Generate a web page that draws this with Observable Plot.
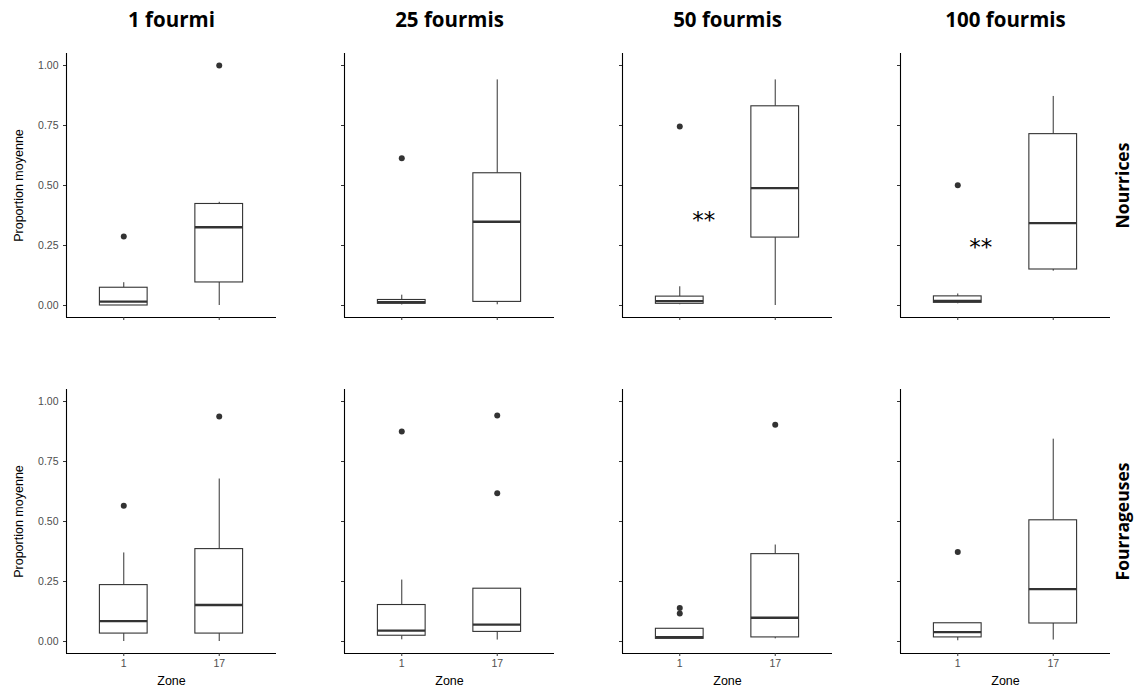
<!DOCTYPE html>
<html>
<head>
<meta charset="utf-8">
<script src="https://cdn.jsdelivr.net/npm/d3@7"></script>
<script src="https://cdn.jsdelivr.net/npm/@observablehq/plot@0.6"></script>
<style>
  html, body { margin: 0; padding: 0; background: #fff; }
  #chart svg { display: block; overflow: visible; }
</style>
</head>
<body>
<div id="chart"></div>
<script>
// ---- data ----
const groups = ["1 fourmi", "25 fourmis", "50 fourmis", "100 fourmis"];
const roles = ["Nourrices", "Fourrageuses"];
const zones = ["1", "17"];
const yTicks = [0, 0.25, 0.5, 0.75, 1];

// box order: role (Nourrices, Fourrageuses) > group > zone (1, 17)
const whiskerLow  = [0.000, 0.000, 0.002, 0.003, 0.003, 0.000, 0.007, 0.143,
                     0.000, 0.000, 0.007, 0.006, 0.011, 0.011, 0.003, 0.006];
const quartile1   = [0.000, 0.096, 0.007, 0.015, 0.007, 0.283, 0.011, 0.150,
                     0.033, 0.033, 0.024, 0.040, 0.011, 0.017, 0.017, 0.075];
const medians     = [0.016, 0.326, 0.014, 0.349, 0.018, 0.489, 0.019, 0.343,
                     0.085, 0.152, 0.045, 0.070, 0.018, 0.099, 0.039, 0.218];
const quartile3   = [0.074, 0.423, 0.023, 0.551, 0.037, 0.830, 0.038, 0.714,
                     0.235, 0.385, 0.152, 0.220, 0.053, 0.364, 0.076, 0.505];
const whiskerHigh = [0.095, 0.430, 0.043, 0.940, 0.078, 0.940, 0.048, 0.871,
                     0.369, 0.677, 0.256, 0.220, 0.053, 0.402, 0.076, 0.843];

// outliers
const outRole  = ["Nourrices", "Nourrices", "Nourrices", "Nourrices", "Nourrices",
                  "Fourrageuses", "Fourrageuses", "Fourrageuses", "Fourrageuses", "Fourrageuses",
                  "Fourrageuses", "Fourrageuses", "Fourrageuses", "Fourrageuses"];
const outGroup = ["1 fourmi", "1 fourmi", "25 fourmis", "50 fourmis", "100 fourmis",
                  "1 fourmi", "1 fourmi", "25 fourmis", "25 fourmis", "25 fourmis",
                  "50 fourmis", "50 fourmis", "50 fourmis", "100 fourmis"];
const outZone  = ["1", "17", "1", "1", "1",
                  "1", "17", "1", "17", "17",
                  "1", "1", "17", "1"];
const outValue = [0.288, 1.000, 0.614, 0.746, 0.501,
                  0.566, 0.937, 0.875, 0.942, 0.618,
                  0.140, 0.117, 0.903, 0.373];

// significance labels
const sigGroup = ["50 fourmis", "100 fourmis"];
const sigRole  = ["Nourrices", "Nourrices"];
const sigX     = [1.25, 1.24];
const sigY     = [0.373, 0.26];
const sigText  = ["**", "**"];

// ---- build tables ----
const boxes = medians.map((m, i) => ({
  role: roles[Math.floor(i / 8)],
  group: groups[Math.floor(i / 2) % 4],
  pos: zones.indexOf(zones[i % 2]) + 1,
  lo: whiskerLow[i], q1: quartile1[i], med: m, q3: quartile3[i], hi: whiskerHigh[i]
}));
const outliers = outValue.map((v, i) => ({
  role: outRole[i], group: outGroup[i], pos: zones.indexOf(outZone[i]) + 1, value: v
}));
const sigs = sigText.map((t, i) => ({role: sigRole[i], group: sigGroup[i], x: sigX[i], y: sigY[i], text: t}));

const halfW = 0.25;
const ink = "#333333";
const sans = "'Liberation Sans', Arial, sans-serif";
const boldFont = "'Open Sans', sans-serif";

const chart = Plot.plot({
  width: 1136,
  height: 693,
  marginLeft: 65,
  marginRight: 25,
  marginTop: 53,
  marginBottom: 39,
  style: {fontFamily: sans, background: "white"},
  fx: {domain: groups, axis: null, paddingInner: 0.2464, paddingOuter: 0},
  fy: {domain: roles, axis: null, paddingInner: 0.214, paddingOuter: 0},
  x: {type: "linear", domain: [0.4, 2.6]},
  y: {type: "linear", domain: [-0.05, 1.05]},
  marks: [
    // whiskers
    Plot.ruleX(boxes, {fx: "group", fy: "role", x: "pos", y1: "lo", y2: "q1", stroke: ink, strokeWidth: 1}),
    Plot.ruleX(boxes, {fx: "group", fy: "role", x: "pos", y1: "q3", y2: "hi", stroke: ink, strokeWidth: 1}),
    // boxes
    Plot.rect(boxes, {fx: "group", fy: "role", x1: d => d.pos - halfW, x2: d => d.pos + halfW,
      y1: "q1", y2: "q3", fill: "white", stroke: ink, strokeWidth: 1.1}),
    // medians
    Plot.ruleY(boxes, {fx: "group", fy: "role", y: "med", x1: d => d.pos - halfW, x2: d => d.pos + halfW,
      stroke: ink, strokeWidth: 2.3}),
    // outliers
    Plot.dot(outliers, {fx: "group", fy: "role", x: "pos", y: "value", r: 3, fill: ink, stroke: null}),
    // significance
    Plot.text(sigs, {fx: "group", fy: "role", x: "x", y: "y", text: "text", fontSize: 23, dy: 5,
      fontFamily: "'DejaVu Sans', sans-serif", fill: "black"}),
    // axis lines
    Plot.ruleX([0.4], {stroke: "black", strokeWidth: 1.1}),
    Plot.ruleY([-0.05], {stroke: "black", strokeWidth: 1.1}),
    // y ticks everywhere, labels on left column
    Plot.axisY({ticks: yTicks, tickFormat: () => "", tickSize: 3, stroke: ink, facetAnchor: null, label: null}),
    Plot.axisY({ticks: yTicks, tickFormat: ".2f", tickSize: 0, tickPadding: 8, fill: "#4d4d4d",
      fontSize: 10.5, label: null, facetAnchor: "left"}),
    // x ticks everywhere, labels on bottom row
    Plot.axisX({ticks: [1, 2], tickFormat: () => "", tickSize: 3, stroke: ink, facetAnchor: null, label: null}),
    Plot.axisX({ticks: [1, 2], tickFormat: d => zones[d - 1], tickSize: 0, tickPadding: 6, fill: "#4d4d4d",
      fontSize: 10.5, label: null, facetAnchor: "bottom"}),
    // column titles
    Plot.text(groups, {fx: d => d, fy: () => roles[0], text: d => d, frameAnchor: "top", dy: -33,
      textAnchor: "middle", lineAnchor: "middle",
      fontSize: 20.5, fontWeight: "bold", fontFamily: boldFont, fill: "black"}),
    // row labels
    Plot.text(roles, {fy: d => d, fx: () => groups[3], text: d => d, frameAnchor: "right", dx: 13,
      textAnchor: "middle", lineAnchor: "middle",
      rotate: -90, fontSize: 17.5, fontWeight: "bold", fontFamily: boldFont, fill: "black"}),
    // y axis title
    Plot.text(roles, {fy: d => d, fx: () => groups[0], text: () => "Proportion moyenne", frameAnchor: "left",
      textAnchor: "middle", lineAnchor: "middle",
      dx: -48, rotate: -90, fontSize: 12.5, fill: "black"}),
    // x axis title
    Plot.text(groups, {fx: d => d, fy: () => roles[1], text: () => "Zone", frameAnchor: "bottom", dy: 27,
      textAnchor: "middle", lineAnchor: "middle",
      fontSize: 12.5, fill: "black"})
  ]
});
document.getElementById("chart").appendChild(chart);
</script>
</body>
</html>
